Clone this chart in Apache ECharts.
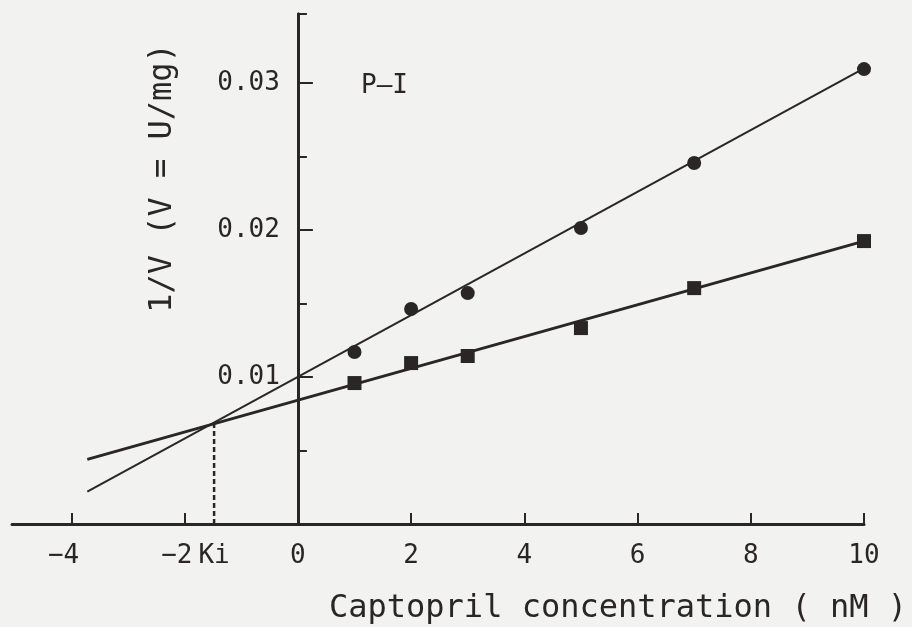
<!DOCTYPE html>
<html>
<head>
<meta charset="utf-8">
<title>Dixon plot – Captopril</title>
<script src="https://cdn.jsdelivr.net/npm/echarts@6/dist/echarts.min.js"></script>
<style>
  html, body { margin: 0; padding: 0; background: #f2f2f0; }
  #chart { width: 912px; height: 627px; }
</style>
</head>
<body>
<div id="chart"></div>
<script>
// Captopril concentration (nM) at which 1/V was measured
const conc = [1, 2, 3, 5, 7, 10];
// 1/V, first substrate level (circles)
const circleVals = [0.0117, 0.01463, 0.01571, 0.02014, 0.02456, 0.03095];
// 1/V, second substrate level (squares)
const squareVals = [0.00959, 0.01095, 0.01143, 0.01333, 0.01605, 0.01925];

// Fitted straight lines, extrapolated to negative concentrations
const fitX = [-3.72, 10];
const circleFit = [0.0022, 0.0310];
const squareFit = [0.0044, 0.01925];

// Intersection of the two lines gives -Ki
const kiValue = -1.48;
const kiLineY = [0, 0.0068];

// Axis ranges and ticks
const xMin = -5.05, xMax = 10;
const yMin = 0, yMax = 0.0347;
const xTicks = [-4, -2, 0, 2, 4, 6, 8, 10];
const yMajorTicks = [0.01, 0.02, 0.03];
const yMinorTicks = [0.005, 0.015, 0.025, yMax];

const ink = '#2a2628';
const mono = '"DejaVu Sans Mono", "Liberation Mono", monospace';

const zip = (xs, ys) => xs.map((x, i) => [x, ys[i]]);

// Plot box
const W = 912, H = 627;
const box = { left: 12, right: 48, top: 14, bottom: 103 };
const plotW = W - box.left - box.right;
// The labelled y axis sits in its own grid whose left edge is x = 0
const zeroLeft = box.left + (0 - xMin) / (xMax - xMin) * plotW;

const chart = echarts.init(document.getElementById('chart'), null, { renderer: 'canvas' });

chart.setOption({
  backgroundColor: '#f2f2f0',
  animation: false,
  grid: [
    Object.assign({ outerBoundsMode: 'none' }, box),
    Object.assign({ outerBoundsMode: 'none' }, box, { left: zeroLeft })
  ],
  title: [{
    text: 'P\u2013I',
    left: 356, top: 68,
    textStyle: { fontFamily: mono, fontSize: 26, fontWeight: 'normal', color: ink }
  }, {
    text: 'Captopril concentration ( nM )',
    left: 324, top: 588,
    textStyle: { fontFamily: mono, fontSize: 32, fontWeight: 'normal', color: ink }
  }],
  graphic: [{
    type: 'text',
    x: 163, y: 178,
    rotation: Math.PI / 2,
    style: {
      text: '1/V (V = U/mg)',
      font: '32px ' + mono,
      fill: ink,
      align: 'center',
      verticalAlign: 'middle'
    }
  }],
  xAxis: [{
    type: 'value', gridIndex: 0,
    min: xMin, max: xMax,
    axisLine: { show: true, onZero: true, lineStyle: { color: ink, width: 3 } },
    axisTick: { show: true, inside: true, length: 11, customValues: xTicks,
                lineStyle: { color: ink, width: 2 } },
    axisLabel: {
      show: true, margin: 19, hideOverlap: false,
      customValues: xTicks.concat([kiValue]),
      fontFamily: mono, fontSize: 26, color: ink,
      formatter: v => {
        v = Number(v);
        if (Math.abs(v - kiValue) < 1e-9) return 'Ki';
        if (v < 0) return '\u2212' + Math.abs(v) + '\u00a0';
        return String(v);
      }
    },
    splitLine: { show: false }
  }, {
    type: 'value', gridIndex: 1,
    min: 0, max: xMax,
    show: false
  }],
  yAxis: [{
    // axis line at x = 0 with the short intermediate ticks
    type: 'value', gridIndex: 0,
    min: yMin, max: yMax,
    axisLine: { show: true, onZero: true, lineStyle: { color: ink, width: 3 } },
    axisTick: { show: true, inside: true, length: 9, customValues: yMinorTicks,
                lineStyle: { color: ink, width: 2 } },
    axisLabel: { show: false },
    splitLine: { show: false }
  }, {
    // labelled ticks
    type: 'value', gridIndex: 1, position: 'left',
    min: yMin, max: yMax,
    axisLine: { show: true, onZero: false, lineStyle: { color: ink, width: 3 } },
    axisTick: { show: true, inside: true, length: 15, customValues: yMajorTicks,
                lineStyle: { color: ink, width: 2 } },
    axisLabel: {
      show: true, margin: 18, hideOverlap: false,
      customValues: yMajorTicks,
      fontFamily: mono, fontSize: 26, color: ink,
      formatter: v => Number(v).toFixed(2)
    },
    splitLine: { show: false }
  }],
  series: [{
    name: 'fit-circle', type: 'line',
    data: zip(fitX, circleFit),
    symbol: 'none', silent: true,
    lineStyle: { color: ink, width: 2 }, z: 2
  }, {
    name: 'fit-square', type: 'line',
    data: zip(fitX, squareFit),
    symbol: 'none', silent: true,
    lineStyle: { color: ink, width: 3 }, z: 2
  }, {
    name: 'Ki', type: 'line',
    data: zip([kiValue, kiValue], kiLineY),
    symbol: 'none', silent: true,
    lineStyle: { color: ink, width: 2.5, type: [5, 3] }, z: 2
  }, {
    name: 'circles', type: 'scatter',
    data: zip(conc, circleVals),
    symbol: 'circle', symbolSize: 14,
    itemStyle: { color: ink, opacity: 1 }, z: 3
  }, {
    name: 'squares', type: 'scatter',
    data: zip(conc, squareVals),
    symbol: 'rect', symbolSize: 14,
    itemStyle: { color: ink, opacity: 1 }, z: 3
  }]
});
</script>
</body>
</html>
